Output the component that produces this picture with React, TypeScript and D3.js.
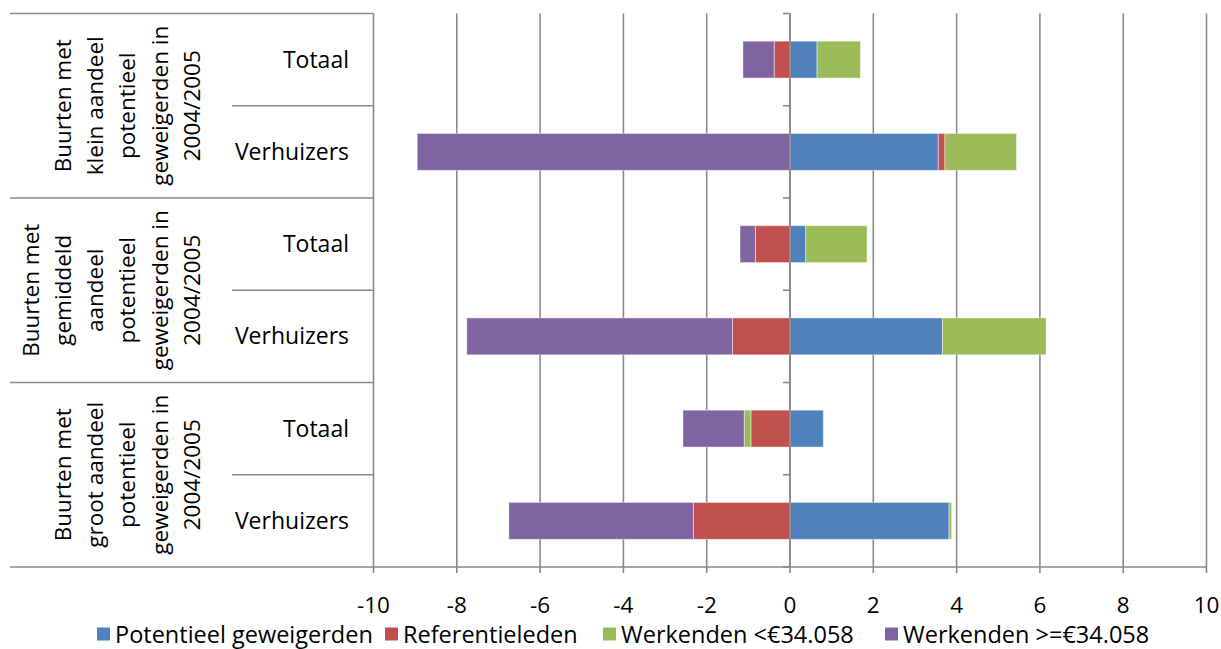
import React from "react";
import * as d3 from "d3";

const rowLabels = ["Totaal", "Verhuizers", "Totaal", "Verhuizers", "Totaal", "Verhuizers"];
const groupLabels = [
  ["Buurten met", "klein aandeel", "potentieel", "geweigerden in", "2004/2005"],
  ["Buurten met", "gemiddeld", "aandeel", "potentieel", "geweigerden in", "2004/2005"],
  ["Buurten met", "groot aandeel", "potentieel", "geweigerden in", "2004/2005"],
];
const seriesNames = ["Potentieel geweigerden", "Referentieleden", "Werkenden <€34.058", "Werkenden >=€34.058"];
const seriesColors = ["#4F81BD", "#C0504D", "#9BBB59", "#8064A2"];

const potentieel = [0.65, 3.56, 0.38, 3.66, 0.8, 3.82];
const referentie = [-0.38, 0.16, -0.83, -1.38, -0.94, -2.32];
const werkendenLaag = [1.04, 1.72, 1.47, 2.49, -0.16, 0.06];
const werkendenHoog = [-0.75, -8.95, -0.37, -6.38, -1.47, -4.43];

const xTicks = [-10, -8, -6, -4, -2, 0, 2, 4, 6, 8, 10];

const W = 1221;
const H = 649;
const FONT = "'Open Sans', sans-serif";

export default function App() {
  const x = d3.scaleLinear().domain([-10, 10]).range([373.5, 1206.5]);
  const rows = d3.range(rowLabels.length);
  const y = d3
    .scaleBand<number>()
    .domain(rows)
    .range([13.5, 567])
    .paddingInner(0.6)
    .paddingOuter(0.3);
  const step = y.step();
  const top = 13.5;
  const bottom = 567;

  const table = rows.map((i) => ({
    i,
    s0: potentieel[i],
    s1: referentie[i],
    s2: werkendenLaag[i],
    s3: werkendenHoog[i],
  }));
  const stack = d3
    .stack<any>()
    .keys(["s0", "s1", "s2", "s3"])
    .offset(d3.stackOffsetDiverging);
  const layers = stack(table);

  const boundaries = d3.range(rows.length + 1).map((k) => top + k * step);

  return (
    <div style={{ position: "absolute", left: 0, top: 0 }}>
      <svg width={W} height={H} style={{ display: "block", background: "#fff" }} fontFamily={FONT}>
        {/* gridlines + x tick marks */}
        {xTicks.map((t) => (
          <line key={"g" + t} x1={x(t)} x2={x(t)} y1={top} y2={bottom + 6} stroke="#8a8a8a" strokeWidth={1.6} />
        ))}
        {/* bars */}
        {layers.map((layer, si) =>
          layer.map((d, ri) => {
            const x0 = x(Math.min(d[0], d[1]));
            const x1 = x(Math.max(d[0], d[1]));
            if (x1 - x0 < 0.01) return null;
            return (
              <rect
                key={si + "-" + ri}
                x={x0}
                y={y(ri)}
                width={x1 - x0}
                height={y.bandwidth()}
                fill={seriesColors[si]}
                stroke="#ffffff"
                strokeOpacity={0.45}
                strokeWidth={1}
              />
            );
          })
        )}
        {/* zero axis with ticks */}
        <line x1={x(0)} x2={x(0)} y1={top} y2={bottom} stroke="#8a8a8a" strokeWidth={1.6} />
        {boundaries.map((b, k) => (
          <line key={"zt" + k} x1={x(0) - 7} x2={x(0)} y1={b} y2={b} stroke="#8a8a8a" strokeWidth={1.6} />
        ))}
        {/* bottom axis line */}
        <line x1={10} x2={x(10)} y1={bottom} y2={bottom} stroke="#8a8a8a" strokeWidth={1.6} />
        {/* label box lines */}
        <line x1={10} x2={x(-10)} y1={top} y2={top} stroke="#8a8a8a" strokeWidth={1.6} />
        {[2, 4].map((k) => (
          <line key={"gs" + k} x1={10} x2={x(-10)} y1={boundaries[k]} y2={boundaries[k]} stroke="#8a8a8a" strokeWidth={1.6} />
        ))}
        {[1, 3, 5].map((k) => (
          <line key={"ss" + k} x1={232} x2={x(-10)} y1={boundaries[k]} y2={boundaries[k]} stroke="#8a8a8a" strokeWidth={1.6} />
        ))}
        {/* row labels */}
        {rows.map((i) => (
          <text
            key={"rl" + i}
            x={349}
            y={(y(i) as number) + y.bandwidth() / 2 - 1}
            textAnchor="end"
            dominantBaseline="central"
            fontSize={23}
            fill="#000"
          >
            {rowLabels[i]}
          </text>
        ))}
        {/* group labels */}
        {groupLabels.map((lines, g) => {
          const cy = top + (g * 2 + 1) * step;
          const n = lines.length;
          return lines.map((ln, j) => {
            const bx = 200 - (n - 1 - j) * 32.3;
            return (
              <text
                key={"gl" + g + "-" + j}
                transform={`translate(${bx},${cy}) rotate(-90)`}
                textAnchor="middle"
                fontSize={22.5}
                fill="#000"
              >
                {ln}
              </text>
            );
          });
        })}
        {/* x tick labels */}
        {xTicks.map((t) => (
          <text key={"xl" + t} x={x(t)} y={604} textAnchor="middle" dominantBaseline="central" fontSize={22.5} fill="#000">
            {t}
          </text>
        ))}
        {/* legend */}
        {(() => {
          const starts = [97, 385, 603, 885];
          return seriesNames.map((n, i) => (
            <g key={"lg" + i} transform={`translate(${starts[i]},634)`}>
              <rect x={0} y={-6.5} width={13} height={13} fill={seriesColors[i]} />
              <text x={18} y={0} dominantBaseline="central" fontSize={23.5} fill="#000">
                {n}
              </text>
            </g>
          ));
        })()}
      </svg>
    </div>
  );
}
